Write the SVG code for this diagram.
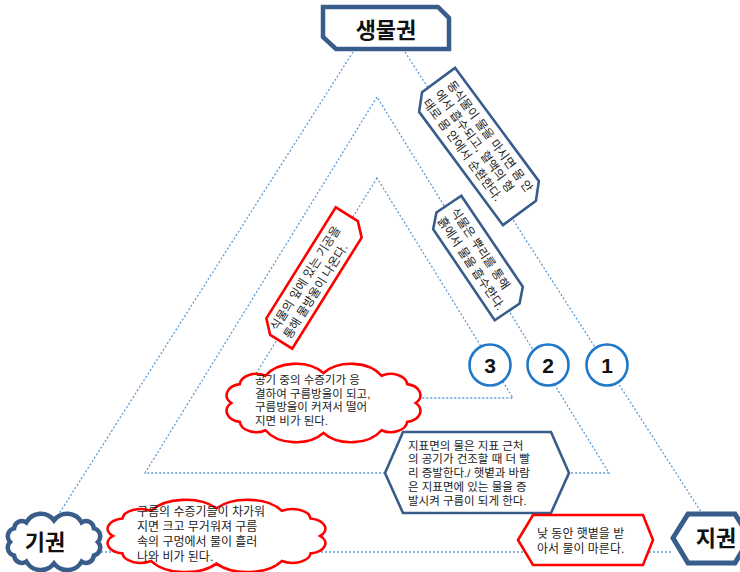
<svg xmlns="http://www.w3.org/2000/svg" width="740" height="572" viewBox="0 0 740 572">
<style>
.t{font-family:"Liberation Sans","Noto Sans CJK KR",sans-serif;font-size:12px;fill:#222}
.s{font-size:11.5px}
.h{font-family:"Noto Sans CJK KR","Noto Sans",sans-serif;font-size:22px;font-weight:bold;fill:#111;text-anchor:middle}
.n{font-family:"Liberation Sans","Noto Sans",sans-serif;font-size:21px;font-weight:bold;fill:#111;text-anchor:middle}
.db{fill:#fff;stroke:#385D8A;stroke-linejoin:miter}
.rd{fill:#fff;stroke:#FF0000;stroke-width:2.6}
.cir{fill:#fff;stroke:#1F78C8;stroke-width:2.6}
.cl{vector-effect:non-scaling-stroke}
</style>
<rect width="740" height="572" fill="#fff"/>
<g id="connectors" fill="none" stroke="#5B9BD5" stroke-width="1.3" stroke-dasharray="2 2">
<path d="M353,52 L55,520"/>
<path d="M405,52 L703,515"/>
<path d="M97,552 L673,552"/>
<path d="M377,97 L145,473 L609,473 Z"/>
<path d="M377,178 L241,398 L513,398 Z"/>
</g>
<g id="biosphere">
<polygon class="db" stroke-width="4.5" points="323,7 438,7 449,18 449,49 336,49 323,37"/>
<text class="h" x="386" y="38">생물권</text>
</g>
<g id="atmosphere">
<path class="db cl" stroke-width="4.5" d="M16,54 A15,15 0 0 1 23.7,28.8 A15,15 0 0 1 47.1,17.7 A32,32 0 0 1 100,14 A32,32 0 0 1 152.9,17.7 A15,15 0 0 1 176.3,28.8 A15,15 0 0 1 184,54 A15,15 0 0 1 176.3,79.2 A15,15 0 0 1 152.9,90.3 A32,32 0 0 1 100,94 A32,32 0 0 1 47.1,90.3 A15,15 0 0 1 23.7,79.2 A15,15 0 0 1 16,54 Z" transform="translate(1.7,512.9) scale(0.523,0.538)"/>
<text class="h" x="45" y="550">기권</text>
</g>
<g id="geosphere">
<polygon class="db" stroke-width="5" points="673,538 688,514 735,514 750,538 735,563 688,563"/>
<text class="h" x="716" y="546">지권</text>
</g>
<g id="animal-note" transform="translate(479,146.5) rotate(53.5)">
<polygon class="db" stroke-width="2.6" points="-77.5,-27.5 63.5,-27.5 77.5,-13.5 77.5,27.5 -63.5,27.5 -77.5,13.5"/>
<text class="t" x="-69" y="-10.5">동식물이 물을 마시면 몸 안<tspan x="-69" dy="15">에서 흡수되고, 혈액의 형</tspan><tspan x="-69" dy="15">태로 몸 안에서 순환한다.</tspan></text>
</g>
<g id="root-note" transform="translate(478,258) rotate(56)">
<polygon class="db" stroke-width="2.6" points="-61,-21 49,-21 61,-9 61,21 -49,21 -61,9"/>
<text class="t" x="-54" y="-3">식물은 뿌리를 통해<tspan x="-54" dy="16">흙에서 물을 흡수한다.</tspan></text>
</g>
<g id="leaf-note" transform="translate(314,278) rotate(-58)">
<polygon class="rd" points="-59.5,-19 71.5,-19 71.5,7 59.5,19 -71.5,19 -71.5,-7"/>
<text class="t" x="-65" y="-3">식물의 잎에 있는 기공을<tspan x="-65" dy="15.5">통해 물방울이 나온다.</tspan></text>
</g>
<g id="circle-3">
<circle class="cir" cx="490" cy="365" r="20.5"/>
<text class="n" x="490" y="373">3</text>
</g>
<g id="circle-2">
<circle class="cir" cx="548" cy="365" r="20.5"/>
<text class="n" x="548" y="373">2</text>
</g>
<g id="circle-1">
<circle class="cir" cx="607" cy="365" r="20.5"/>
<text class="n" x="607" y="373">1</text>
</g>
<g id="condensation-note">
<path class="rd cl" d="M16,54 A15,15 0 0 1 23.7,28.8 A15,15 0 0 1 47.1,17.7 A32,32 0 0 1 100,14 A32,32 0 0 1 152.9,17.7 A15,15 0 0 1 176.3,28.8 A15,15 0 0 1 184,54 A15,15 0 0 1 176.3,79.2 A15,15 0 0 1 152.9,90.3 A32,32 0 0 1 100,94 A32,32 0 0 1 47.1,90.3 A15,15 0 0 1 23.7,79.2 A15,15 0 0 1 16,54 Z" transform="translate(213.8,362.5) scale(1.097,0.75)"/>
<text class="t s" x="255" y="384">공기 중의 수증기가 응<tspan x="255" dy="13.5">결하여 구름방울이 되고,</tspan><tspan x="255" dy="13.5">구름방울이 커져서 떨어</tspan><tspan x="255" dy="13.5">지면 비가 된다.</tspan></text>
</g>
<g id="evaporation-note">
<polygon class="db" stroke-width="2.6" points="385,473 403,432 551,432 569,473 551,513 403,513"/>
<text class="t s" x="408" y="449.5">지표면의 물은 지표 근처<tspan x="408" dy="13.75">의 공기가 건조할 때 더 빨</tspan><tspan x="408" dy="13.75">리 증발한다./ 햇볕과 바람</tspan><tspan x="408" dy="13.75">은 지표면에 있는 물을 증</tspan><tspan x="408" dy="13.75">발시켜 구름이 되게 한다.</tspan></text>
</g>
<g id="rain-note">
<path class="rd cl" d="M16,54 A15,15 0 0 1 23.7,28.8 A15,15 0 0 1 47.1,17.7 A32,32 0 0 1 100,14 A32,32 0 0 1 152.9,17.7 A15,15 0 0 1 176.3,28.8 A15,15 0 0 1 184,54 A15,15 0 0 1 176.3,79.2 A15,15 0 0 1 152.9,90.3 A32,32 0 0 1 100,94 A32,32 0 0 1 47.1,90.3 A15,15 0 0 1 23.7,79.2 A15,15 0 0 1 16,54 Z" transform="translate(93.2,498.6) scale(1.233,0.692)"/>
<text class="t" x="137" y="516">구름의 수증기들이 차가워<tspan x="137" dy="15">지면 크고 무거워져 구름</tspan><tspan x="137" dy="15">속의 구멍에서 물이 흘러</tspan><tspan x="137" dy="15">나와 비가 된다.</tspan></text>
</g>
<g id="drying-note">
<polygon class="rd" points="518,540 533,515 643,515 653,540 643,565 533,565"/>
<text class="t" x="537" y="537.5">낮 동안 햇볕을 받<tspan x="537" dy="15">아서 물이 마른다.</tspan></text>
</g>
</svg>
